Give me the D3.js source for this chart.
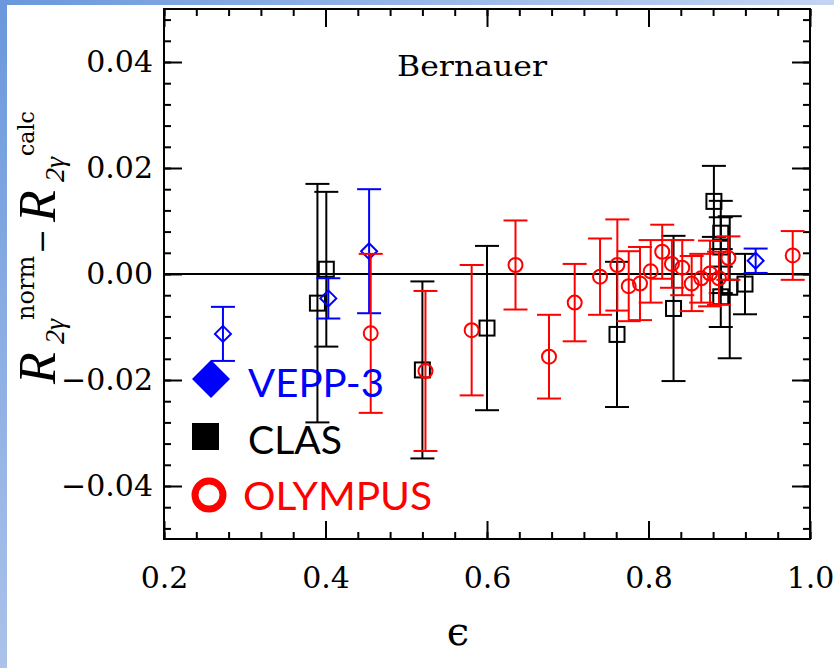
<!DOCTYPE html>
<html>
<head>
<meta charset="utf-8">
<script src="https://cdn.jsdelivr.net/npm/d3@7"></script>
<style>
  body { margin: 0; background: #fff; }
  svg { display: block; }
  .tick text { font-family: "DejaVu Serif", serif; font-size: 30px; fill: #000; }
</style>
</head>
<body>
<svg width="834" height="668"></svg>
<script>
// data: [epsilon, value, error]
var veppData = [
    [0.273, -0.0113, 0.0051],
    [0.4035, -0.0046, 0.0038],
    [0.454, 0.0043, 0.0117],
    [0.9327, 0.0025, 0.0023]
];
var clasData = [
    [0.390, -0.0055, 0.0225],
    [0.401, 0.0009, 0.0146],
    [0.520, -0.0181, 0.0167],
    [0.600, -0.0102, 0.0155],
    [0.761, -0.0114, 0.0137],
    [0.831, -0.0065, 0.0137],
    [0.881, 0.0137, 0.0067],
    [0.8895, 0.0077, 0.0030],
    [0.8895, 0.0051, 0.0087],
    [0.8895, -0.0043, 0.0057],
    [0.9006, -0.0025, 0.0134],
    [0.9195, -0.0019, 0.0057]
];
var olympusData = [
    [0.456, -0.0112, 0.0150],
    [0.5238, -0.0183, 0.0151],
    [0.581, -0.0106, 0.0123],
    [0.6353, 0.0017, 0.0084],
    [0.6768, -0.0156, 0.0079],
    [0.7086, -0.0054, 0.0073],
    [0.740, -0.0005, 0.0072],
    [0.7614, 0.0017, 0.0086],
    [0.7755, -0.0023, 0.0066],
    [0.7895, -0.0018, 0.0069],
    [0.8027, 0.0005, 0.0059],
    [0.817, 0.0042, 0.0051],
    [0.829, 0.0019, 0.0045],
    [0.8418, 0.0012, 0.0052],
    [0.8535, -0.0018, 0.0052],
    [0.8653, -0.0008, 0.0046],
    [0.8762, 0.0001, 0.0062],
    [0.8873, -0.0008, 0.0050],
    [0.899, 0.0030, 0.0041],
    [0.9786, 0.0035, 0.0046]
];
var xMajor = [0.2, 0.4, 0.6, 0.8, 1.0];
var xLabels = ['0.2', '0.4', '0.6', '0.8', '1.0'];
var yMajor = [-0.04, -0.02, 0.0, 0.02, 0.04];
var yLabels = ['\u22120.04', '\u22120.02', '0.00', '0.02', '0.04'];
var xMinor = d3.range(0, 21).map(function (i) { return 0.2 + i * 0.04; });
var yMinor = d3.range(-12, 13).map(function (i) { return i * 0.004; });

var svg = d3.select('svg');

// bluish slide border
var defs = svg.append('defs');
var gl = defs.append('linearGradient').attr('id', 'gLeft').attr('x1', 0).attr('y1', 0).attr('x2', 0).attr('y2', 1);
gl.append('stop').attr('offset', 0).attr('stop-color', '#6a98dc');
gl.append('stop').attr('offset', 1).attr('stop-color', '#abc2ea');
var gt = defs.append('linearGradient').attr('id', 'gTop').attr('x1', 0).attr('y1', 0).attr('x2', 1).attr('y2', 0);
gt.append('stop').attr('offset', 0).attr('stop-color', '#6a98dc');
gt.append('stop').attr('offset', 1).attr('stop-color', '#c4d4f2');
svg.append('rect').attr('x', 0).attr('y', 0).attr('width', 834).attr('height', 5).attr('fill', 'url(#gTop)');
svg.append('rect').attr('x', 0).attr('y', 0).attr('width', 7).attr('height', 668).attr('fill', 'url(#gLeft)');

var x = d3.scaleLinear().domain([0.2, 1.0]).range([164, 810]);
var y = d3.scaleLinear().domain([-0.05, 0.05]).range([539, 9]);

function tickAxis(axis, scale, vals, size, g) {
    g.call(axis(scale).tickValues(vals).tickSizeInner(-size).tickSizeOuter(0).tickFormat(''))
        .call(function (s) { s.select('.domain').remove(); })
        .selectAll('line').attr('stroke', '#000').attr('stroke-width', 2);
}

// minor + major ticks on all four sides
var sides = [
    [d3.axisBottom, x, 'translate(0,539)', xMinor, xMajor],
    [d3.axisTop, x, 'translate(0,9)', xMinor, xMajor],
    [d3.axisLeft, y, 'translate(164,0)', yMinor, yMajor],
    [d3.axisRight, y, 'translate(810,0)', yMinor, yMajor]
];
sides.forEach(function (s) {
    tickAxis(s[0], s[1], s[3], 7, svg.append('g').attr('transform', s[2]));
    tickAxis(s[0], s[1], s[4], 18, svg.append('g').attr('transform', s[2]));
});

// tick labels
svg.append('g').attr('transform', 'translate(0,539)')
    .call(d3.axisBottom(x).tickValues(xMajor).tickSize(0).tickPadding(28)
        .tickFormat(function (d, i) { return xLabels[i]; }))
    .call(function (s) { s.select('.domain').remove(); });
svg.append('g').attr('transform', 'translate(164,0)')
    .call(d3.axisLeft(y).tickValues(yMajor).tickSize(0).tickPadding(11)
        .tickFormat(function (d, i) { return yLabels[i]; }))
    .call(function (s) { s.select('.domain').remove(); });

// frame and zero line
svg.append('rect').attr('x', 164).attr('y', 9).attr('width', 646).attr('height', 530)
    .attr('fill', 'none').attr('stroke', '#000').attr('stroke-width', 2);
svg.append('line').attr('x1', 164).attr('x2', 810).attr('y1', y(0)).attr('y2', y(0))
    .attr('stroke', '#000').attr('stroke-width', 2);

function errorBars(data, color) {
    var g = svg.append('g').attr('stroke', color).attr('stroke-width', 2).attr('fill', 'none');
    data.forEach(function (d) {
        var cx = x(d[0]), top = y(d[1] + d[2]), bot = y(d[1] - d[2]);
        g.append('line').attr('x1', cx).attr('x2', cx).attr('y1', top).attr('y2', bot);
        g.append('line').attr('x1', cx - 12).attr('x2', cx + 12).attr('y1', top).attr('y2', top);
        g.append('line').attr('x1', cx - 12).attr('x2', cx + 12).attr('y1', bot).attr('y2', bot);
    });
    return g;
}

var gClas = errorBars(clasData, '#000');
gClas.selectAll('.sq').data(clasData).enter().append('rect')
    .attr('x', function (d) { return x(d[0]) - 7.5; })
    .attr('y', function (d) { return y(d[1]) - 7.5; })
    .attr('width', 15).attr('height', 15);

var gVepp = errorBars(veppData, '#0000ff');
gVepp.selectAll('.dm').data(veppData).enter().append('path')
    .attr('d', function (d) {
        var cx = x(d[0]), cy = y(d[1]), r = 8;
        return 'M' + cx + ',' + (cy - r) + 'L' + (cx + r) + ',' + cy + 'L' + cx + ',' + (cy + r) + 'L' + (cx - r) + ',' + cy + 'Z';
    });

var gOly = errorBars(olympusData, '#ff0000');
gOly.selectAll('.ci').data(olympusData).enter().append('circle')
    .attr('cx', function (d) { return x(d[0]); })
    .attr('cy', function (d) { return y(d[1]); })
    .attr('r', 7);

// title
svg.append('text').attr('x', 472).attr('y', 76).attr('text-anchor', 'middle')
    .style('font-family', '"DejaVu Serif", serif').style('font-size', '27px')
    .attr('textLength', 150).attr('lengthAdjust', 'spacingAndGlyphs')
    .text('Bernauer');

// x label
svg.append('text').attr('x', 458).attr('y', 645).attr('text-anchor', 'middle')
    .style('font-family', '"DejaVu Serif", serif').style('font-size', '40px')
    .text('\u03f5');

// y label built from pieces, rotated
var yl = svg.append('g').attr('transform', 'translate(0,384) rotate(-90)').attr('fill', '#000');
function piece(lx, ly, size, fam, italic, txt) {
    yl.append('text').attr('x', lx).attr('y', ly)
        .style('font-family', fam)
        .style('font-size', size + 'px').style('font-style', italic ? 'italic' : 'normal')
        .text(txt);
}
var mathF = '"Liberation Serif", serif', textF = '"DejaVu Serif", serif';
piece(0, 55, 52, mathF, true, 'R');
piece(40, 64, 28, mathF, true, '2\u03b3');
piece(64, 34, 24, textF, false, 'norm');
piece(130, 52, 30, textF, false, '\u2212');
piece(162, 55, 52, mathF, true, 'R');
piece(202, 64, 28, mathF, true, '2\u03b3');
piece(228, 34, 22, textF, false, 'calc');

// legend
var legFont = 'Lato, "Open Sans", sans-serif';
svg.append('path').attr('d', 'M211,360L230,379L211,398L192,379Z').attr('fill', '#0000ff');
svg.append('text').attr('x', 248).attr('y', 397).attr('fill', '#0000ff')
    .attr('textLength', 136).attr('lengthAdjust', 'spacingAndGlyphs')
    .style('font-family', legFont).style('font-size', '39px').text('VEPP-3');
svg.append('rect').attr('x', 192).attr('y', 423).attr('width', 27).attr('height', 27).attr('fill', '#000');
svg.append('text').attr('x', 248).attr('y', 454).attr('fill', '#000')
    .attr('textLength', 94).attr('lengthAdjust', 'spacingAndGlyphs')
    .style('font-family', legFont).style('font-size', '39px').text('CLAS');
svg.append('circle').attr('cx', 209).attr('cy', 495).attr('r', 14).attr('fill', 'none')
    .attr('stroke', '#ff0000').attr('stroke-width', 7);
svg.append('text').attr('x', 243).attr('y', 510).attr('fill', '#ff0000')
    .attr('textLength', 189).attr('lengthAdjust', 'spacingAndGlyphs')
    .style('font-family', legFont).style('font-size', '39px').text('OLYMPUS');
</script>
</body>
</html>
